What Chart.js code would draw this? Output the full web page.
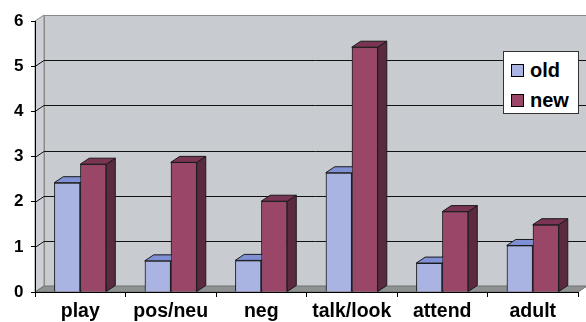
<!DOCTYPE html>
<html>
<head>
<meta charset="utf-8">
<script src="https://cdn.jsdelivr.net/npm/chart.js@4.4.1/dist/chart.umd.min.js"></script>
<style>
  body { margin: 0; background: #fff; }
  #wrap { position: relative; width: 586px; height: 322px; }
  #legend {
    position: absolute; left: 503px; top: 51px; width: 76px; height: 63px;
    box-sizing: border-box; background: #fff; border: 1px solid #333;
    padding: 3px 0 0 7px;
    font: bold 20px 'Liberation Sans', Arial, sans-serif; color: #000;
  }
  #legend .item { height: 30px; display: flex; align-items: center; }
  #legend .sw { width: 11px; height: 11px; border: 1px solid #000; margin-right: 6px; }
</style>
</head>
<body>
<div id="wrap">
  <canvas id="myChart" width="586" height="322"></canvas>
  <div id="legend"></div>
</div>
<script>
  // data
  const categories = ["play", "pos/neu", "neg", "talk/look", "attend", "adult"];
  const oldValues = [2.42, 0.69, 0.70, 2.64, 0.64, 1.03];
  const newValues = [2.83, 2.87, 2.01, 5.42, 1.78, 1.49];
  const yTicks = [0, 1, 2, 3, 4, 5, 6];

  const FONT = "'Liberation Sans', Arial, sans-serif";
  // depth of the fake 3d
  const DX = 9, DY = -6;

  function poly(ctx, pts, fill, stroke) {
    ctx.beginPath();
    ctx.moveTo(pts[0][0], pts[0][1]);
    for (let i = 1; i < pts.length; i++) ctx.lineTo(pts[i][0], pts[i][1]);
    ctx.closePath();
    if (fill) { ctx.fillStyle = fill; ctx.fill(); }
    if (stroke) { ctx.strokeStyle = stroke; ctx.lineWidth = 1; ctx.stroke(); }
  }

  // walls, floor and gridlines behind everything
  const walls3d = {
    id: "walls3d",
    beforeDraw(chart) {
      const ctx = chart.ctx, a = chart.chartArea, y = chart.scales.y;
      const L = a.left, R = a.right, T = a.top, B = a.bottom;
      ctx.save();
      ctx.fillStyle = "#c8cbd0";
      ctx.fillRect(L + DX, T + DY, R - L, B - T);
      poly(ctx, [[L, T], [L + DX, T + DY], [L + DX, B + DY], [L, B]], "#cdd0d4", "#8a8a8a");
      poly(ctx, [[L, B], [L + DX, B + DY], [R + DX, B + DY], [R, B]], "#8e9292", "#707070");
      // back wall edges
      ctx.strokeStyle = "#8a8a8a";
      ctx.beginPath();
      ctx.moveTo(L + DX + 0.5, B + DY);
      ctx.lineTo(L + DX + 0.5, T + DY + 0.5);
      ctx.lineTo(R + DX, T + DY + 0.5);
      ctx.stroke();
      // gridlines
      ctx.strokeStyle = "#111";
      ctx.lineWidth = 1;
      yTicks.forEach(v => {
        if (v <= y.min || v >= y.max) return;
        const py = Math.round(y.getPixelForValue(v)) + 0.5;
        ctx.beginPath();
        ctx.moveTo(L, py);
        ctx.lineTo(L + DX, py + DY);
        ctx.lineTo(R + DX, py + DY);
        ctx.stroke();
      });
      ctx.restore();
    }
  };

  // top and side faces of every bar, then its front again so the next bar hides the side
  const bars3d = {
    id: "bars3d",
    afterDatasetsDraw(chart) {
      const ctx = chart.ctx;
      ctx.save();
      chart.data.datasets.forEach((ds, i) => {
        const meta = chart.getDatasetMeta(i);
        meta.data.forEach(bar => {
          const x0 = bar.x - bar.width / 2, x1 = bar.x + bar.width / 2;
          const top = bar.y, base = bar.base;
          poly(ctx, [[x1, top], [x1 + DX, top + DY], [x1 + DX, base + DY], [x1, base]], ds.sideColor, "#1a1a1a");
          poly(ctx, [[x0, top], [x0 + DX, top + DY], [x1 + DX, top + DY], [x1, top]], ds.topColor, "#1a1a1a");
          bar.draw(ctx, chart.chartArea);
        });
      });
      ctx.restore();
    }
  };

  const config_bar = {
    type: "bar",
    data: {
      labels: categories,
      datasets: [{
          label: "old",
          data: oldValues,
          backgroundColor: "#aab4e3",
          topColor: "#8090d4",
          sideColor: "#6b76b0",
          borderColor: "#1a1a1a",
          borderWidth: 1
      }, {
          label: "new",
          data: newValues,
          backgroundColor: "#9a4669",
          topColor: "#7a3454",
          sideColor: "#5c2a3f",
          borderColor: "#1a1a1a",
          borderWidth: 1
      }]
    },
    options: {
      responsive: false,
      animation: false,
      layout: { padding: { top: 21, right: 8, left: 0, bottom: 0 } },
      datasets: { bar: { categoryPercentage: 0.575, barPercentage: 1 } },
      plugins: { legend: { display: false }, tooltip: { enabled: false } },
      scales: {
        x: {
          grid: { offset: true, drawOnChartArea: false, tickLength: 5, color: "#000" },
          border: { color: "#000", width: 1 },
          ticks: { color: "#000", padding: 3, font: { family: FONT, size: 19.5, weight: "bold" } },
          afterFit(scale) { scale.height = 30; }
        },
        y: {
          min: 0,
          max: 6,
          afterBuildTicks(scale) { scale.ticks = yTicks.map(v => ({ value: v })); },
          grid: { drawOnChartArea: false, tickLength: 4, color: "#000" },
          border: { color: "#000", width: 1 },
          ticks: { color: "#000", padding: 7.5, font: { family: FONT, size: 17, weight: "bold" } },
          afterFit(scale) { scale.width = 35; }
        }
      }
    },
    plugins: [walls3d, bars3d]
  };

  const myChart = new Chart(document.getElementById("myChart"), config_bar);

  // legend as html, built from the datasets
  const legend = document.getElementById("legend");
  myChart.data.datasets.forEach(ds => {
    const item = document.createElement("div");
    item.className = "item";
    const sw = document.createElement("span");
    sw.className = "sw";
    sw.style.background = ds.backgroundColor;
    item.appendChild(sw);
    item.appendChild(document.createTextNode(ds.label));
    legend.appendChild(item);
  });
</script>
</body>
</html>
